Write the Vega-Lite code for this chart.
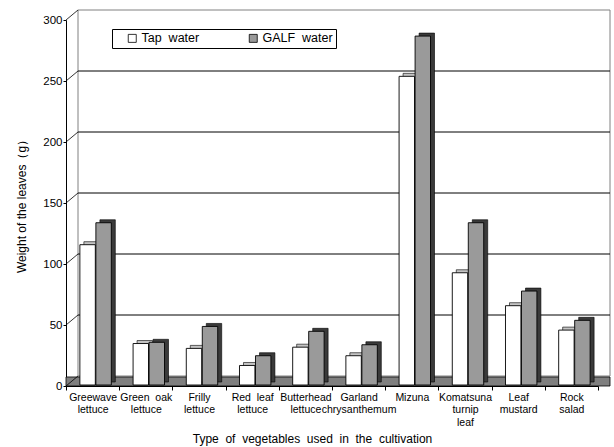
{
  "$schema": "https://vega.github.io/schema/vega-lite/v6.json",
  "width": 532,
  "height": 366,
  "autosize": {"type": "none"},
  "padding": {"left": 66, "top": 20, "right": 16, "bottom": 61},
  "background": "white",
  "config": {
    "view": {"stroke": null},
    "font": "Liberation Sans",
    "axis": {"labelFont": "Liberation Sans", "titleFont": "Liberation Sans", "labelColor": "black", "titleColor": "black", "titleFontWeight": "normal"},
    "legend": {"labelFont": "Liberation Sans"}
  },
  "datasets": {
    "bars": [
      {"cat": "Greewave|lettuce", "series": "Tap\u00a0\u00a0water", "value": 115},
      {"cat": "Greewave|lettuce", "series": "GALF\u00a0\u00a0water", "value": 133},
      {"cat": "Green\u00a0\u00a0oak|lettuce", "series": "Tap\u00a0\u00a0water", "value": 34},
      {"cat": "Green\u00a0\u00a0oak|lettuce", "series": "GALF\u00a0\u00a0water", "value": 35},
      {"cat": "Frilly|lettuce", "series": "Tap\u00a0\u00a0water", "value": 30},
      {"cat": "Frilly|lettuce", "series": "GALF\u00a0\u00a0water", "value": 48},
      {"cat": "Red\u00a0\u00a0leaf|lettuce", "series": "Tap\u00a0\u00a0water", "value": 16},
      {"cat": "Red\u00a0\u00a0leaf|lettuce", "series": "GALF\u00a0\u00a0water", "value": 24},
      {"cat": "Butterhead|lettuce", "series": "Tap\u00a0\u00a0water", "value": 31},
      {"cat": "Butterhead|lettuce", "series": "GALF\u00a0\u00a0water", "value": 44},
      {"cat": "Garland|chrysanthemum", "series": "Tap\u00a0\u00a0water", "value": 24},
      {"cat": "Garland|chrysanthemum", "series": "GALF\u00a0\u00a0water", "value": 33},
      {"cat": "Mizuna", "series": "Tap\u00a0\u00a0water", "value": 253},
      {"cat": "Mizuna", "series": "GALF\u00a0\u00a0water", "value": 286},
      {"cat": "Komatsuna|turnip|leaf", "series": "Tap\u00a0\u00a0water", "value": 92},
      {"cat": "Komatsuna|turnip|leaf", "series": "GALF\u00a0\u00a0water", "value": 133},
      {"cat": "Leaf|mustard", "series": "Tap\u00a0\u00a0water", "value": 65},
      {"cat": "Leaf|mustard", "series": "GALF\u00a0\u00a0water", "value": 77},
      {"cat": "Rock|salad", "series": "Tap\u00a0\u00a0water", "value": 45},
      {"cat": "Rock|salad", "series": "GALF\u00a0\u00a0water", "value": 53}
    ],
    "grid": [{"v": 50}, {"v": 100}, {"v": 150}, {"v": 200}, {"v": 250}],
    "ticks": [{"v": 0}, {"v": 50}, {"v": 100}, {"v": 150}, {"v": 200}, {"v": 250}, {"v": 300}]
  },
  "resolve": {"scale": {"x": "independent"}, "axis": {"x": "independent"}},
  "layer": [
    {
      "layer": [
        {
          "data": {"values": [{}]},
          "mark": {"type": "rect", "fill": "white", "stroke": "#808080", "strokeWidth": 1, "xOffset": 12, "x2Offset": 12, "yOffset": -10, "y2Offset": -10},
          "encoding": {
            "x": {"datum": 0, "type": "quantitative", "scale": {"domain": [0, 1]}, "axis": null},
            "x2": {"datum": 1},
            "y": {"datum": 0, "type": "quantitative", "scale": {"domain": [0, 300], "nice": false}},
            "y2": {"datum": 300}
          }
        },
        {
          "data": {"name": "grid"},
          "mark": {"type": "rule", "color": "black", "strokeWidth": 1, "xOffset": 12, "x2Offset": 12, "yOffset": -10},
          "encoding": {
            "x": {"datum": 0, "type": "quantitative"},
            "x2": {"datum": 1},
            "y": {"field": "v", "type": "quantitative"}
          }
        },
        {
          "data": {"values": [{}]},
          "mark": {"type": "rect", "fill": "#7f7f7f", "stroke": "black", "strokeWidth": 0.8, "x2Offset": 12},
          "encoding": {
            "x": {"datum": 0, "type": "quantitative"},
            "x2": {"datum": 1},
            "y": {"datum": 0, "type": "quantitative"},
            "y2": {"datum": 7.4}
          }
        },
        {
          "data": {"name": "ticks"},
          "mark": {"type": "rule", "color": "black", "strokeWidth": 0.8, "x2Offset": 12, "y2Offset": -10},
          "encoding": {
            "x": {"datum": 0, "type": "quantitative"},
            "x2": {"datum": 0},
            "y": {"field": "v", "type": "quantitative"},
            "y2": {"field": "v"}
          }
        }
      ]
    },
    {
      "data": {"name": "bars"},
      "encoding": {
        "x": {
          "field": "cat", "type": "nominal", "sort": null,
          "scale": {
            "domain": ["Greewave|lettuce", "Green\u00a0\u00a0oak|lettuce", "Frilly|lettuce", "Red\u00a0\u00a0leaf|lettuce", "Butterhead|lettuce", "Garland|chrysanthemum", "Mizuna", "Komatsuna|turnip|leaf", "Leaf|mustard", "Rock|salad"],
            "paddingInner": 0, "paddingOuter": 0
          },
          "axis": {
            "orient": "bottom",
            "title": "Type\u00a0\u00a0of\u00a0\u00a0vegetables\u00a0\u00a0used\u00a0\u00a0in\u00a0\u00a0the\u00a0\u00a0cultivation",
            "titleFontSize": 12, "titlePadding": 6, "titleX": 246,
            "labelExpr": "datum.value ? split(datum.value, '|') : ''",
            "labelAngle": 0, "labelFontSize": 10.5, "labelLineHeight": 12.5, "labelPadding": 2,
            "tickBand": "extent", "tickColor": "black", "tickSize": 4,
            "domainColor": "black", "labelOverlap": false
          }
        },
        "y": {
          "field": "value", "type": "quantitative",
          "axis": {
            "title": "Weight of the leaves\uff08g\uff09", "titleFontSize": 12, "titlePadding": 14,
            "values": [0, 50, 100, 150, 200, 250, 300],
            "labelFontSize": 11.5, "labelPadding": 1, "tickColor": "black", "tickSize": 3, "domainColor": "black", "grid": false
          }
        }
      },
      "layer": [
        {
          "transform": [{"filter": "datum.series == 'Tap\u00a0\u00a0water'"}],
          "mark": {"type": "bar", "width": {"band": 0.29}, "xOffset": -1, "yOffset": -4, "y2Offset": -4, "fill": "#c4c4c4", "stroke": "black", "strokeWidth": 0.6}
        },
        {
          "transform": [{"filter": "datum.series == 'Tap\u00a0\u00a0water'"}],
          "mark": {"type": "bar", "width": {"band": 0.29}, "xOffset": -5, "yOffset": -1, "y2Offset": -1, "stroke": "black", "strokeWidth": 0.9},
          "encoding": {
            "fill": {
              "field": "series", "type": "nominal",
              "scale": {"domain": ["Tap\u00a0\u00a0water", "GALF\u00a0\u00a0water"], "range": ["white", "#9a9a9a"]},
              "legend": {
                "title": null, "orient": "none", "legendX": 46, "legendY": 9, "direction": "horizontal",
                "strokeColor": "black", "padding": 3, "fillColor": "white",
                "symbolType": "square", "symbolSize": 64, "symbolStrokeColor": "black", "symbolStrokeWidth": 0.8,
                "labelFontSize": 12.5, "labelColor": "black", "labelOffset": 3, "columnPadding": 36, "symbolOffset": 11
              }
            }
          }
        },
        {
          "transform": [{"filter": "datum.series == 'GALF\u00a0\u00a0water'"}],
          "mark": {"type": "bar", "width": {"band": 0.29}, "xOffset": 15, "yOffset": -4, "y2Offset": -4, "fill": "#3a3a3a", "stroke": "black", "strokeWidth": 0.6}
        },
        {
          "transform": [{"filter": "datum.series == 'GALF\u00a0\u00a0water'"}],
          "mark": {"type": "bar", "width": {"band": 0.29}, "xOffset": 11, "yOffset": -1, "y2Offset": -1, "stroke": "black", "strokeWidth": 0.9},
          "encoding": {
            "fill": {"field": "series", "type": "nominal"}
          }
        }
      ]
    }
  ]
}
